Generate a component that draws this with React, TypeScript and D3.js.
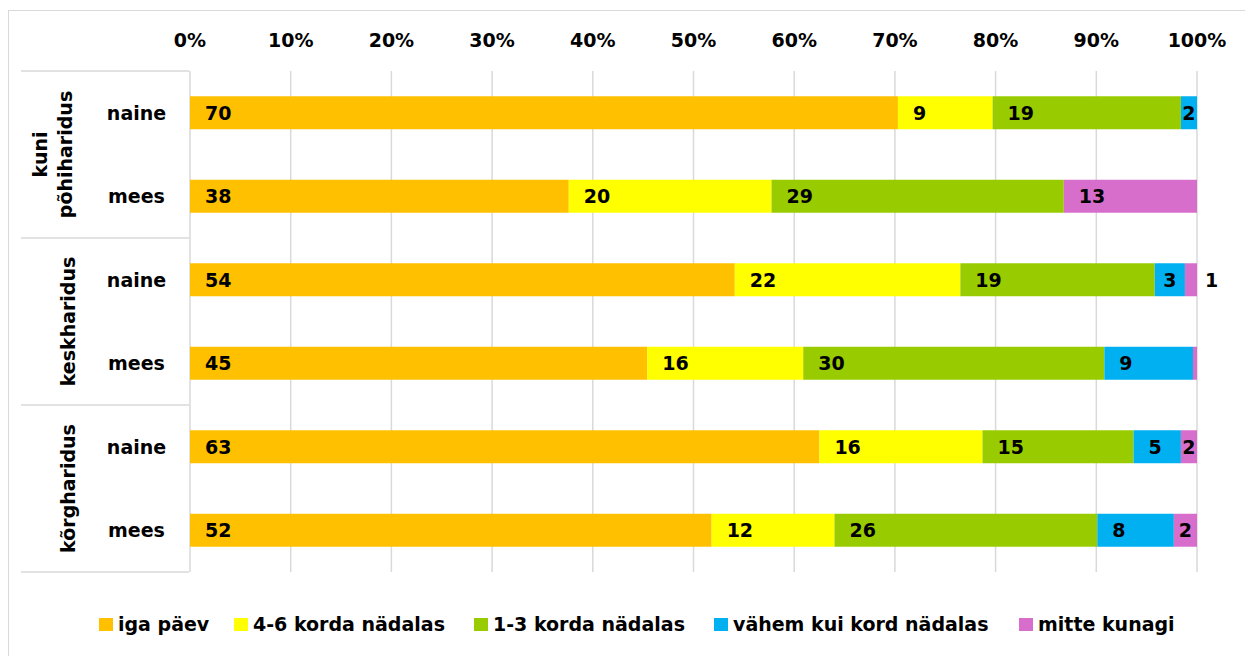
import React from "react"
import * as d3 from "d3"

// education groups and sexes (rows, top to bottom)
const groups = ["kuni põhiharidus", "keskharidus", "kõrgharidus"]
const groupLines = [["kuni", "põhiharidus"], ["keskharidus"], ["kõrgharidus"]]
const sexes = ["naine", "mees"]

// series, one value per row (naine/mees per group), in %
const seriesNames = ["iga päev", "4-6 korda nädalas", "1-3 korda nädalas", "vähem kui kord nädalas", "mitte kunagi"]
const igaPaev = [70.3, 38.1, 54.1, 45.4, 62.5, 51.8]
const korda46 = [9.4, 20.4, 22.4, 15.5, 16.2, 12.2]
const korda13 = [18.7, 29.4, 19.3, 29.9, 15.0, 26.1]
const vahem = [1.6, 0, 3.0, 8.8, 4.7, 7.6]
const mitteKunagi = [0, 13.4, 1.2, 0.4, 1.6, 2.3]

const tickValues = [0, 0.1, 0.2, 0.3, 0.4, 0.5, 0.6, 0.7, 0.8, 0.9, 1]

const colors = ["#FFC000", "#FFFF00", "#99CC00", "#00B0F0", "#D86ECC"]
const legendX = [99, 234, 474, 714, 1019]

const W = 1245
const H = 656
const font = "'DejaVu Sans', Verdana, sans-serif"
const fs = 19

export default function App() {
    const rowKeys = groups.flatMap((g) => sexes.map((s) => g + "|" + s))
    const table = rowKeys.map((k, i) => ({
        key: k,
        s0: igaPaev[i], s1: korda46[i], s2: korda13[i], s3: vahem[i], s4: mitteKunagi[i],
    }))
    const keys = ["s0", "s1", "s2", "s3", "s4"]
    const stacked = d3.stack<any>().keys(keys).offset(d3.stackOffsetExpand)(table)

    const x = d3.scaleLinear().domain([0, 1]).range([190, 1197])
    const y = d3.scaleBand().domain(rowKeys).range([71, 572]).paddingInner(0.605).paddingOuter(0.3025)
    const gy = d3.scaleBand().domain(groups).range([71, 572])

    const digitW = fs * 0.696

    return (
        <svg width={W} height={H} style={{ position: "absolute", left: 0, top: 0, background: "#fff" }}
            fontFamily={font} fontWeight="bold" fill="#000">
            <rect x={8.5} y={10.5} width={W + 10} height={H + 10} fill="#fff" stroke="#d9d9d9" />

            {/* gridlines + top axis */}
            {tickValues.map((t) => (
                <g key={t}>
                    <line x1={x(t)} x2={x(t)} y1={71} y2={572} stroke="#d9d9d9" strokeWidth={1.5} />
                    <text x={x(t)} y={47} textAnchor="middle" fontSize={fs}>{d3.format(".0%")(t)}</text>
                </g>
            ))}

            {/* group separators */}
            {groups.map((g) => (
                <line key={g} x1={21} x2={189} y1={gy(g)} y2={gy(g)} stroke="#d9d9d9" strokeWidth={1.5} />
            ))}
            <line x1={21} x2={189} y1={572} y2={572} stroke="#d9d9d9" strokeWidth={1.5} />

            {/* group labels */}
            {groups.map((g, gi) => {
                const lines = groupLines[gi]
                const cy = gy(g)! + gy.bandwidth() / 2
                const base = lines.length === 1 ? [75] : [47, 72]
                return lines.map((l, li) => (
                    <text key={g + li} transform={`translate(${base[li]},${cy}) rotate(-90)`}
                        textAnchor="middle" fontSize={fs}>{l}</text>
                ))
            })}

            {/* sex labels */}
            {rowKeys.map((k) => (
                <text key={k} x={136.5} y={y(k)! + y.bandwidth() / 2} textAnchor="middle"
                    dy="0.36em" fontSize={fs}>{k.split("|")[1]}</text>
            ))}

            {/* bars */}
            {stacked.map((layer, si) => (
                <g key={layer.key} fill={colors[si]}>
                    {layer.map((d, i) => (
                        <rect key={i} x={x(d[0])} y={y(rowKeys[i])} width={Math.max(0, x(d[1]) - x(d[0]))}
                            height={y.bandwidth()} />
                    ))}
                </g>
            ))}

            {/* data labels */}
            {stacked.map((layer, si) => (
                <g key={"l" + layer.key}>
                    {layer.map((d, i) => {
                        const v = Math.round((table[i] as any)[keys[si]])
                        if (!v) return null
                        const x0 = x(d[0])
                        const w = x(d[1]) - x0
                        const tw = String(v).length * digitW
                        const lx = w >= tw + 2 ? x0 + Math.min(15, (w - tw) / 2) : x(d[1]) + 8
                        return (
                            <text key={i} x={lx} y={y(rowKeys[i])! + y.bandwidth() / 2} dy="0.36em"
                                fontSize={fs}>{v}</text>
                        )
                    })}
                </g>
            ))}

            {/* legend */}
            {seriesNames.map((n, i) => (
                <g key={n} transform={`translate(${legendX[i]},631)`}>
                    <rect x={0} y={-13} width={14} height={13} fill={colors[i]} />
                    <text x={19} y={0} fontSize={fs}>{n}</text>
                </g>
            ))}
        </svg>
    )
}
